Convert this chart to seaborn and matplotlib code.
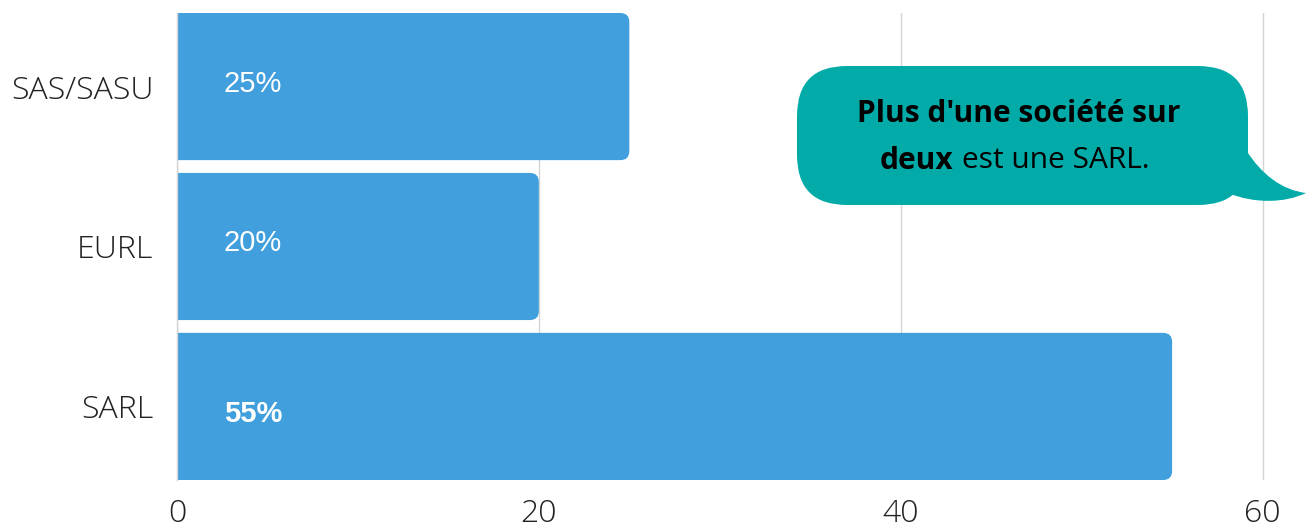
import matplotlib
matplotlib.use("Agg")
import matplotlib.pyplot as plt
import seaborn as sns
import pandas as pd
from matplotlib.patches import FancyBboxPatch, PathPatch
from matplotlib.path import Path
from matplotlib.transforms import IdentityTransform

# data
categories = ["SAS/SASU", "EURL", "SARL"]
shares = [25, 20, 55]
labels = ["25%", "20%", "55%"]
label_bold = [False, False, True]
label_dy = [-0.015, -0.02, 0.045]
x_ticks = [0, 20, 40, 60]

bar_color = "#409FDC"
bubble_color = "#02ABA8"

df = pd.DataFrame({"forme": categories, "part": shares})

sns.set_style("white")
plt.rcParams["font.family"] = ["Open Sans", "DejaVu Sans"]

fig = plt.figure(figsize=(13.06, 5.30), dpi=100)
ax = fig.add_axes([177 / 1306, 1 - 480 / 530, 1 - 177 / 1306, 467 / 530])

sns.barplot(data=df, x="part", y="forme", orient="h", color=bar_color,
            width=0.92, saturation=1, ax=ax)

ax.set_xlim(0, 62.4)
ax.set_ylim(2.46, -0.46)

# swap plain bars for bars with rounded right corners
x_px = 1129 / 62.4
y_px = 467 / 2.92
radius = 9 / x_px
for p in list(ax.patches):
    x0, y0, w, h = p.get_x(), p.get_y(), p.get_width(), p.get_height()
    p.remove()
    ax.add_patch(FancyBboxPatch((x0 - 2, y0), w + 2, h,
                                boxstyle=f"round,pad=0,rounding_size={radius}",
                                mutation_aspect=x_px / y_px,
                                fc=bar_color, ec="none", zorder=2))

for i, (lab, b, dy) in enumerate(zip(labels, label_bold, label_dy)):
    ax.text(4.2, i + dy, lab, color="white", fontsize=21,
            fontweight="bold" if b else "normal", family="Liberation Sans",
            ha="center", va="center", zorder=3)

ax.set_xticks(x_ticks)
ax.xaxis.grid(True, color="#d4d4d4", linewidth=1)
ax.set_axisbelow(True)
ax.tick_params(axis="x", length=0, pad=13, labelsize=23, labelcolor="#222222")
ax.tick_params(axis="y", length=0, pad=17, labelsize=23, labelcolor="#222222")
for t in ax.get_xticklabels() + ax.get_yticklabels():
    t.set_fontweight("light")
ax.set_xlabel("")
ax.set_ylabel("")
for s in ["top", "right", "bottom"]:
    ax.spines[s].set_visible(False)
ax.spines["left"].set_color("#d4d4d4")
ax.spines["left"].set_linewidth(1)

# speech bubble, pixel coordinates (origin bottom-left)
H = 530
ident = IdentityTransform()
bubble = FancyBboxPatch((797, H - 205), 451, 139,
                        boxstyle="round,pad=0,rounding_size=50",
                        fc=bubble_color, ec="none", transform=ident)
fig.add_artist(bubble)
tail = Path([(1246, H - 150), (1262, H - 175), (1282, H - 190), (1306, H - 193),
             (1285, H - 203), (1255, H - 204), (1228, H - 193),
             (1246, H - 150)],
            [Path.MOVETO, Path.CURVE4, Path.CURVE4, Path.CURVE4,
             Path.CURVE4, Path.CURVE4, Path.CURVE4, Path.LINETO])
fig.add_artist(PathPatch(tail, fc=bubble_color, ec="none", transform=ident))

fig.text(1019, H - 114, "Plus d'une société sur", transform=ident,
         fontsize=21.5, fontweight="bold", ha="center", va="center", color="black")
fig.text(953, H - 161, "deux", transform=ident, fontsize=21.5,
         fontweight="bold", ha="right", va="center", color="black")
fig.text(962, H - 161, "est une SARL.", transform=ident, fontsize=21.5,
         ha="left", va="center", color="black")

fig.savefig("out.png", dpi=100)
